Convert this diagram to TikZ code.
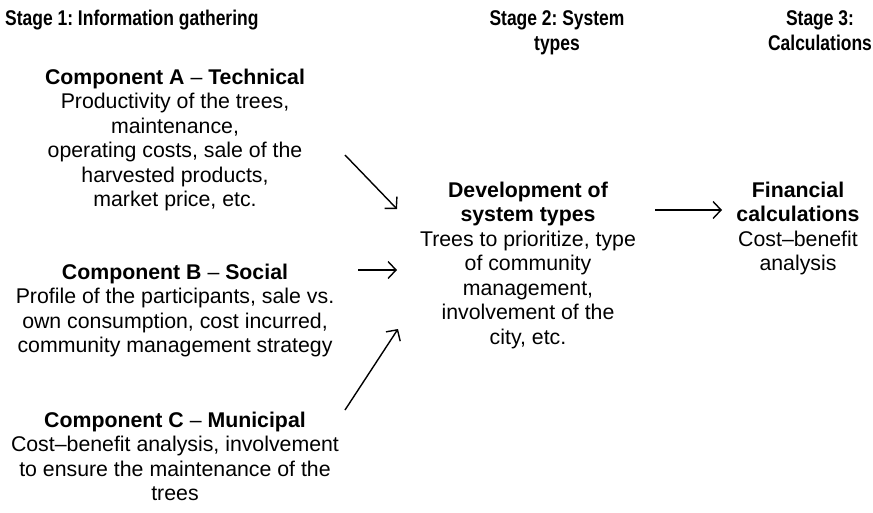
\documentclass[tikz,border=0pt]{standalone}
\usepackage{fontspec}
\setmainfont{Liberation Sans}
\newfontfamily\headfont{Liberation Sans}[FakeStretch=0.82]
\usetikzlibrary{arrows.meta}
\frenchspacing
\begin{document}
\begin{tikzpicture}[x=1pt,y=-1pt,
  % multi-line nodes are placed by the baseline of their last line
  txt/.style={inner sep=0pt, align=center, anchor=base,
    font=\fontsize{21.3}{24.5}\selectfont},
  stagehead/.style={inner sep=0pt, align=center, anchor=base,
    font=\headfont\bfseries\fontsize{21.3}{25}\selectfont},
  flow/.style={line width=1.4pt,
    -{Straight Barb[length=8pt,width=17pt,line width=1.4pt]}}]
\useasboundingbox (0,0) rectangle (873,512);

% stage headings
\node[stagehead, anchor=base west] (s1) at (5,25) {Stage 1: Information gathering};
\node[stagehead] (s2) at (557,50) {Stage 2: System\\types};
\node[stagehead] (s3) at (820,50) {Stage 3:\\Calculations};

% stage 1 components
\node[txt] (ca) at (175,206.5) {\textbf{Component A} – \textbf{Technical}\\
  Productivity of the trees,\\maintenance,\\operating costs, sale of the\\
  harvested products,\\market price, etc.};
\node[txt] (cb) at (175,352.5) {\textbf{Component B} – \textbf{Social}\\
  Profile of the participants, sale vs.\\own consumption, cost incurred,\\
  community management strategy};
\node[txt] (cc) at (175,500.5) {\textbf{Component C} – \textbf{Municipal}\\
  Cost–benefit analysis, involvement\\to ensure the maintenance of the\\trees};

% stage 2
\node[txt] (dev) at (528,344) {\textbf{Development of}\\\textbf{system types}\\
  Trees to prioritize, type\\of community\\management,\\involvement of the\\city, etc.};

% stage 3
\node[txt] (fin) at (798,270.5) {\textbf{Financial}\\\textbf{calculations}\\
  Cost–benefit\\analysis};

% arrow ends
\coordinate (a1) at (345,155);
\coordinate (a2) at (397,209);
\coordinate (b1) at (358,270);
\coordinate (b2) at (397,270);
\coordinate (c1) at (345,410);
\coordinate (c2) at (398,329);
\coordinate (d1) at (655,210);
\coordinate (d2) at (722,210);

\draw[flow] (a1) -- (a2);
\draw[flow] (b1) -- (b2);
\draw[flow] (c1) -- (c2);
\draw[flow] (d1) -- (d2);
\end{tikzpicture}
\end{document}
